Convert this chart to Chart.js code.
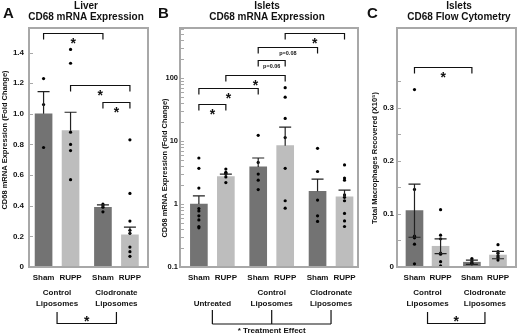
<!DOCTYPE html>
<html>
<head>
<meta charset="utf-8">
<script src="https://cdn.jsdelivr.net/npm/chart.js@4.4.0/dist/chart.umd.min.js"></script>
<style>
  body { margin: 0; background: #fff; }
  #wrap { position: relative; width: 520px; height: 334px; overflow: hidden; }
  canvas { position: absolute; top: 0; }
</style>
</head>
<body>
<div id="wrap">
  <canvas id="chartA" width="157" height="334" style="left:0px"></canvas>
  <canvas id="chartB" width="208" height="334" style="left:157px"></canvas>
  <canvas id="chartC" width="155" height="334" style="left:365px"></canvas>
</div>
<script>
// ---- data ----
const barLabels = ['Sham', 'RUPP'];

// A: liver CD68 mRNA (fold change)
const groupsA = [['Control', 'Liposomes'], ['Clodronate', 'Liposomes']];
const meanA = [1.0, 0.89, 0.39, 0.21];
const semA = [0.145, 0.12, 0.015, 0.05];
const pointsA = [
  [1.23, 1.06, 0.78],
  [1.42, 1.33, 0.88, 0.80, 0.76, 0.57],
  [0.41, 0.40, 0.39, 0.36],
  [0.83, 0.48, 0.30, 0.24, 0.22, 0.13, 0.10, 0.07]
];
const yTicksA = [0, 0.2, 0.4, 0.6, 0.8, 1.0, 1.2, 1.4];
const bracketsA = [[0, 2, 1.53, '*'], [1, 3, 1.185, '*'], [2, 3, 1.075, '*']];

// B: islet CD68 mRNA (fold change, log axis)
const groupsB = [['Untreated'], ['Control', 'Liposomes'], ['Clodronate', 'Liposomes']];
const meanB = [1.0, 2.75, 3.9, 8.5, 1.6, 1.3];
const semB = [0.35, 0.25, 1.5, 8.2, 0.9, 0.37];
const pointsB = [
  [5.4, 3.7, 1.8, 0.85, 0.78, 0.65, 0.56, 0.44, 0.42],
  [3.6, 3.2, 3.1, 3.0, 2.7, 2.2],
  [12.4, 4.6, 3.0, 2.4, 1.7],
  [71, 50, 23, 11.4, 3.7, 1.13, 0.86],
  [7.7, 3.3, 1.16, 0.65, 0.53],
  [4.2, 2.6, 2.4, 1.4, 1.28, 1.13, 0.71, 0.54, 0.44]
];
const majorB = [0.1, 1, 10, 100];
const bracketsB = [[0, 1, 39.6, '*'], [0, 2, 69, '*'], [1, 3, 113, '*'],
                   [2, 3, 193, 'p=0.06'], [2, 4, 314, 'p=0.08'], [3, 5, 531, '*']];

// C: islet CD68 flow cytometry
const groupsC = [['Control', 'Liposomes'], ['Clodronate', 'Liposomes']];
const meanC = [0.106, 0.039, 0.009, 0.0225];
const semC = [0.05, 0.014, 0.004, 0.007];
const pointsC = [
  [0.334, 0.146, 0.058, 0.055, 0.043, 0.006],
  [0.108, 0.060, 0.053, 0.026, 0.024, 0.010, 0.002],
  [0.016, 0.013, 0.010, 0.007, 0.006],
  [0.042, 0.029, 0.026, 0.021, 0.018, 0.013]
];
const yTicksC = [0, 0.05, 0.1, 0.15, 0.2, 0.25, 0.3, 0.35];
const bracketsC = [[0, 2, 0.377, '*']];

// ---- styling ----
const FONT = '"Liberation Sans", Arial, sans-serif';
const DARK = '#737373';
const LIGHT = '#bdbdbd';
const FRAME = '#a8a8a8';
const INK = '#111';

const xOf = i => Math.floor(i / 2) * 2.2 + (i % 2);

function text(ctx, str, x, y, size, align) {
  ctx.font = 'bold ' + size + 'px ' + FONT;
  ctx.textAlign = align || 'center';
  ctx.textBaseline = 'middle';
  ctx.fillStyle = INK;
  ctx.fillText(str, x, y);
}

function star(ctx, x, cy, size) {
  ctx.font = 'bold ' + size + 'px ' + FONT;
  ctx.textAlign = 'center';
  ctx.textBaseline = 'alphabetic';
  ctx.fillStyle = INK;
  ctx.fillText('*', x, cy + 0.55 * size);
}

function makePanel(id, p) {
  const xs = p.mean.map((_, i) => xOf(i));
  const nGroups = p.groups.length;
  const decor = {
    id: 'decor' + id,
    afterDraw(chart) {
      const ctx = chart.ctx;
      const a = chart.chartArea;
      const xS = chart.scales.x, yS = chart.scales.y;
      ctx.save();
      // frame
      ctx.strokeStyle = FRAME;
      ctx.lineWidth = 2;
      ctx.strokeRect(a.left, a.top, a.right - a.left, a.bottom - a.top);
      // inner tick marks
      ctx.lineWidth = 1;
      yS.ticks.forEach(t => {
        const y = Math.round(yS.getPixelForValue(t.value)) + 0.5;
        ctx.beginPath(); ctx.moveTo(a.left, y); ctx.lineTo(a.left + 4, y); ctx.stroke();
      });
      // error bars
      ctx.strokeStyle = '#222';
      ctx.lineWidth = 1.2;
      p.mean.forEach((m, i) => {
        const x = xS.getPixelForValue(xs[i]);
        const top = yS.getPixelForValue(m + p.sem[i]);
        const bot = yS.getPixelForValue(p.symmetric ? m - p.sem[i] : m);
        ctx.beginPath();
        ctx.moveTo(x, bot); ctx.lineTo(x, top);
        ctx.moveTo(x - 6, top); ctx.lineTo(x + 6, top);
        if (p.symmetric) { ctx.moveTo(x - 6, bot); ctx.lineTo(x + 6, bot); }
        ctx.stroke();
      });
      // significance brackets above bars
      ctx.strokeStyle = INK;
      ctx.lineWidth = 1.2;
      p.brackets.forEach(([i, j, lvl, lab]) => {
        const x1 = xS.getPixelForValue(xs[i]), x2 = xS.getPixelForValue(xs[j]);
        const y = Math.round(yS.getPixelForValue(lvl)) + 0.5;
        ctx.beginPath();
        ctx.moveTo(x1, y + 6); ctx.lineTo(x1, y); ctx.lineTo(x2, y); ctx.lineTo(x2, y + 6);
        ctx.stroke();
        if (lab === '*') star(ctx, (x1 + x2) / 2, y + 7, 14);
        else text(ctx, lab, (x1 + x2) / 2, y + 5.5, 5.5);
      });
      // group labels
      const gx = p.groups.map((_, g) => (xS.getPixelForValue(xs[2 * g]) + xS.getPixelForValue(xs[2 * g + 1])) / 2);
      p.groups.forEach((lines, g) => {
        lines.slice().reverse().forEach((ln, k) => text(ctx, ln, gx[g], 304 - 11 * k, 8));
      });
      // group comparison bracket below
      ctx.beginPath();
      if (p.treatment) {
        gx.forEach(x => { ctx.moveTo(x, 310); ctx.lineTo(x, 324); });
        ctx.moveTo(gx[0], 324); ctx.lineTo(gx[nGroups - 1], 324);
        ctx.stroke();
        text(ctx, '* Treatment Effect', (gx[0] + gx[nGroups - 1]) / 2, 330.5, 8);
      } else {
        ctx.moveTo(gx[0], 312); ctx.lineTo(gx[0], 323.5);
        ctx.lineTo(gx[1], 323.5); ctx.lineTo(gx[1], 312);
        ctx.stroke();
        star(ctx, (gx[0] + gx[1]) / 2, 318, 14);
      }
      // titles, panel letter, axis title
      ctx.translate(-p.offset, 0);
      text(ctx, p.title[0], p.titleX, 6, 10);
      text(ctx, p.title[1], p.titleX, 17.5, 10);
      text(ctx, p.letter, p.letterX, 14, 15, 'left');
      ctx.translate(p.yTitleX, p.yTitleY);
      ctx.rotate(-Math.PI / 2);
      text(ctx, p.yTitle, 0, 0, 7.5);
      ctx.restore();
    }
  };

  return new Chart(document.getElementById(id), {
    type: 'bar',
    data: {
      datasets: [
        {
          type: 'scatter',
          data: p.points.flatMap((arr, i) => arr.map(v => ({ x: xs[i], y: v }))),
          pointRadius: 1.6,
          pointBackgroundColor: '#000',
          pointBorderWidth: 0,
          order: 0
        },
        {
          data: p.mean.map((v, i) => ({ x: xs[i], y: v })),
          backgroundColor: xs.map((_, i) => (i % 2 ? LIGHT : DARK)),
          barThickness: 17,
          order: 1
        }
      ]
    },
    options: {
      responsive: false,
      animation: false,
      devicePixelRatio: 1,
      layout: { padding: { top: 28, right: p.padRight, left: 0, bottom: 0 } },
      plugins: { legend: { display: false }, tooltip: { enabled: false } },
      scales: {
        x: {
          type: 'linear',
          offset: false,
          min: p.xMin,
          max: p.xMax,
          grid: { display: false, drawTicks: false },
          border: { display: false },
          afterBuildTicks: s => { s.ticks = xs.map(v => ({ value: v })); },
          afterFit: s => { s.height = 334 - 267; s.paddingLeft = 0; s.paddingRight = 0; },
          ticks: {
            autoSkip: false, maxRotation: 0, minRotation: 0, padding: 6, color: INK,
            font: { family: FONT, size: 8, weight: 'bold' },
            callback: (v, i) => barLabels[i % 2]
          }
        },
        y: {
          type: p.log ? 'logarithmic' : 'linear',
          min: p.yMin,
          max: p.yMax,
          grid: { display: false, drawTicks: false },
          border: { display: false },
          afterBuildTicks: s => { s.ticks = p.yTicks.map(v => ({ value: v })); },
          afterFit: s => { s.width = p.left; s.paddingTop = 0; s.paddingBottom = 0; },
          ticks: {
            autoSkip: false, padding: p.tickPad, color: INK,
            font: { family: FONT, size: p.tickSize, weight: 'bold' },
            callback: p.yLabel
          }
        }
      }
    },
    plugins: [decor]
  });
}

makePanel('chartA', {
  offset: 0, left: 29, padRight: 9, tickPad: 5, tickSize: 8,
  mean: meanA, sem: semA, points: pointsA, groups: groupsA, brackets: bracketsA,
  xMin: -0.54, xMax: 3.87, yMin: 0, yMax: 1.56, yTicks: yTicksA,
  yLabel: v => (v === 0 ? '0' : v.toFixed(1)),
  title: ['Liver', 'CD68 mRNA Expression'], titleX: 86, letter: 'A', letterX: 3,
  yTitle: 'CD68 mRNA Expression (Fold Change)', yTitleX: 5, yTitleY: 140
});

makePanel('chartB', {
  offset: 157, left: 23, padRight: 7, tickPad: 2, tickSize: 7.5, log: true, treatment: true,
  mean: meanB, sem: semB, points: pointsB, groups: groupsB, brackets: bracketsB,
  xMin: -0.7, xMax: 5.9, yMin: 0.1, yMax: 630,
  yTicks: majorB.flatMap(d => [1, 2, 3, 4, 5, 6, 7, 8, 9].map(m => +(d * m).toPrecision(3))).filter(v => v <= 630),
  yLabel: v => (majorB.includes(v) ? String(v) : ''),
  title: ['Islets', 'CD68 mRNA Expression'], titleX: 267, letter: 'B', letterX: 158,
  yTitle: 'CD68 mRNA Expression (Fold Change)', yTitleX: 165, yTitleY: 168
});

makePanel('chartC', {
  offset: 365, left: 32, padRight: 1, tickPad: 3, tickSize: 8, symmetric: true,
  mean: meanC, sem: semC, points: pointsC, groups: groupsC, brackets: bracketsC,
  xMin: -0.67, xMax: 3.89, yMin: 0, yMax: 0.45, yTicks: yTicksC,
  yLabel: v => ([0, 0.1, 0.2, 0.3].includes(v) ? String(v) : ''),
  title: ['Islets', 'CD68 Flow Cytometry'], titleX: 459, letter: 'C', letterX: 367,
  yTitle: 'Total Macrophages Recovered (X10\u2075)', yTitleX: 375, yTitleY: 158
});
</script>
</body>
</html>
